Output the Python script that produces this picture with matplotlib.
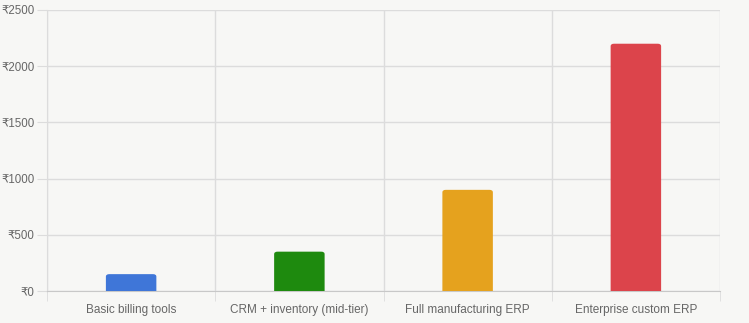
import matplotlib
matplotlib.use("Agg")
import matplotlib.pyplot as plt
from matplotlib.patches import FancyBboxPatch

plt.rcParams['font.family'] = ['Liberation Sans', 'DejaVu Sans']

categories = ["Basic billing tools", "CRM + inventory (mid-tier)", "Full manufacturing ERP", "Enterprise custom ERP"]
costs = [150, 350, 900, 2200]
colors = ["#3f76d8", "#1e8a0e", "#e5a21e", "#dc444b"]
yticks = [0, 500, 1000, 1500, 2000, 2500]

bg = "#f7f7f5"
grid_c = "#dcdcdc"
text_c = "#666666"

fig = plt.figure(figsize=(7.49, 3.23), dpi=100, facecolor=bg)
ax = fig.add_axes([47 / 749, 1 - 291 / 323, 673 / 749, 281 / 323])
ax.set_facecolor(bg)

x = list(range(len(categories)))
bars = ax.bar(x, costs, width=0.3, color=colors, zorder=3)

# round the top corners a little
for b, c in zip(bars, colors):
    b.set_visible(False)
    p = FancyBboxPatch((b.get_x(), b.get_y() - 60), b.get_width(), b.get_height() + 60,
                       boxstyle="round,pad=0,rounding_size=0.02", mutation_aspect=1100,
                       facecolor=c, edgecolor="none", zorder=3, clip_on=True)
    ax.add_patch(p)

ax.set_xlim(-0.5, len(categories) - 0.5)
ax.set_ylim(0, 2500)
ax.set_yticks(yticks)
ax.set_yticklabels(["₹" + str(v) for v in yticks])
ax.set_xticks(x)
ax.set_xticklabels(categories)
ax.set_xticks([i - 0.5 for i in range(len(categories) + 1)], minor=True)

ax.grid(axis="y", color=grid_c, linewidth=1, zorder=0)
ax.grid(axis="x", which="minor", color=grid_c, linewidth=1, zorder=0)
ax.tick_params(axis="y", length=7, color=grid_c, labelsize=8.3, labelcolor=text_c, pad=2)
ax.tick_params(axis="x", which="major", length=0, labelsize=8.5, labelcolor=text_c, pad=9.5)
ax.tick_params(axis="x", which="minor", length=7, color=grid_c)

for s in ["top", "right"]:
    ax.spines[s].set_visible(False)
ax.spines["left"].set_color(grid_c)
ax.spines["bottom"].set_color("#c8c8c8")

fig.savefig("out.png", dpi=100, facecolor=bg)
